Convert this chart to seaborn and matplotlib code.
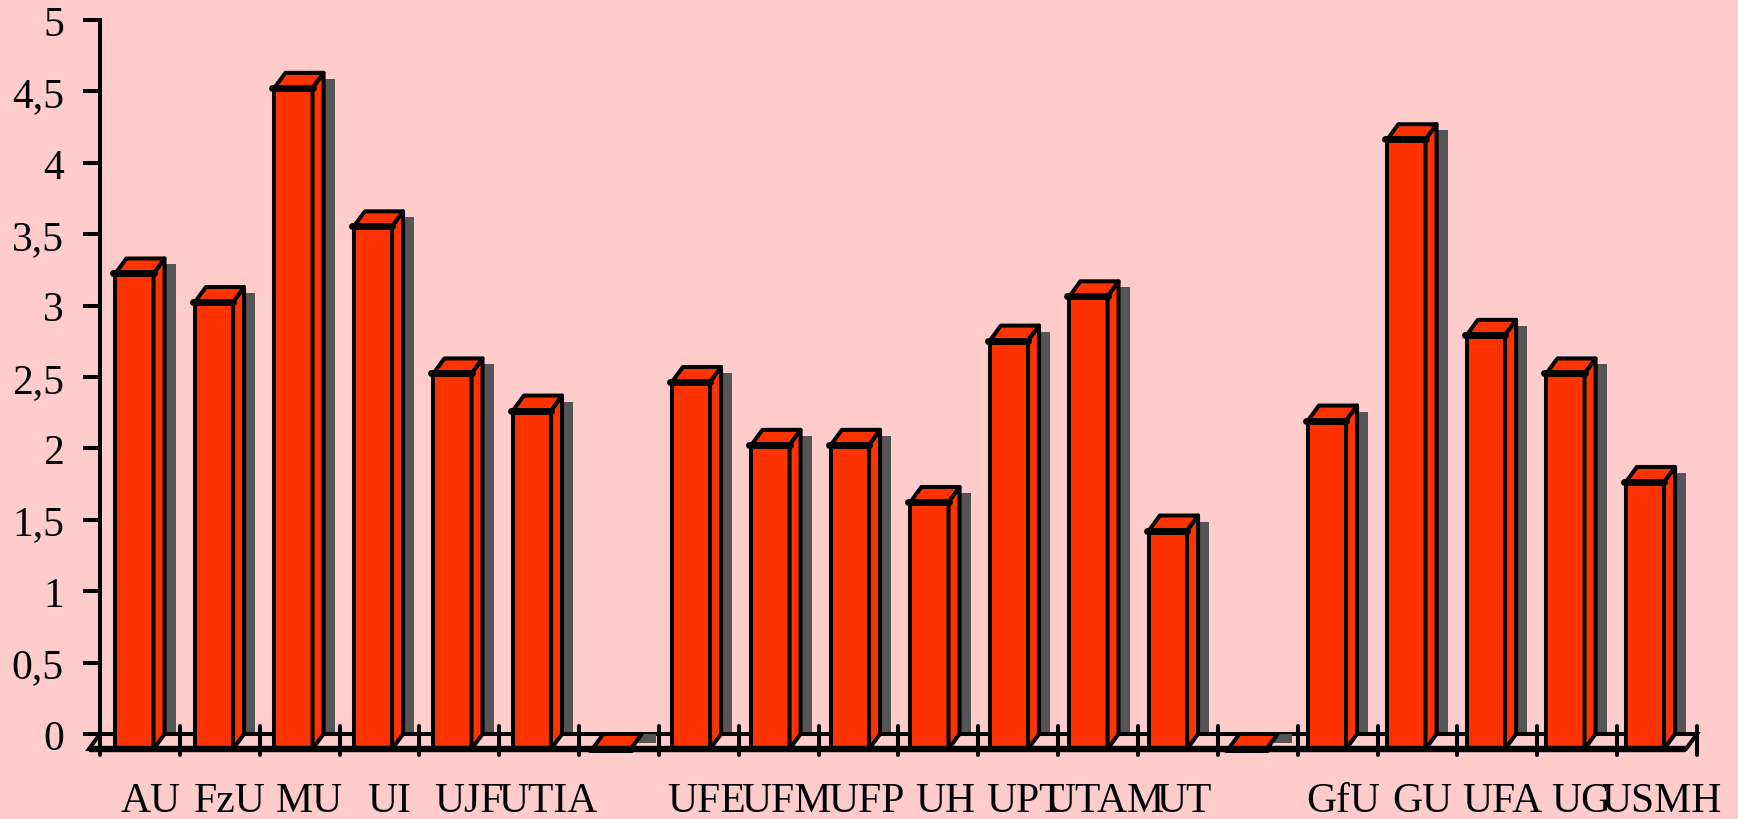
import numpy as np
import pandas as pd
import matplotlib
matplotlib.use("Agg")
import matplotlib.pyplot as plt
import seaborn as sns
from matplotlib.patches import Polygon
from matplotlib.lines import Line2D
from matplotlib.transforms import ScaledTranslation, IdentityTransform
from matplotlib.ticker import FuncFormatter

# ---------------- data ----------------
categories = ["AU", "FzU", "MU", "UI", "UJF", "UTIA", " ",
              "UFE", "UFM", "UFP", "UH", "UPT", "UTAM", "UT", "  ",
              "GfU", "GU", "UFA", "UG", "USMH"]
values = [3.33, 3.13, 4.63, 3.66, 2.63, 2.37, 0.0,
          2.57, 2.13, 2.13, 1.73, 2.86, 3.17, 1.53, 0.0,
          2.30, 4.27, 2.90, 2.63, 1.87]
y_ticks = [0, 0.5, 1, 1.5, 2, 2.5, 3, 3.5, 4, 4.5, 5]

# ---------------- style ----------------
BG = "#FFCCCC"
BAR = "#FF3300"
SHADOW = "#555555"
EDGE = "black"
LW = 2.9          # points
DPI = 100
DX, DY = 11, 15   # 3D depth offset in pixels (front = back - offset)
SX, SY = 11, 6    # shadow offset in pixels

sns.set_theme(style="white")
plt.rcParams['font.family'] = ['Liberation Serif', 'DejaVu Serif']

W, H = 1738, 820
fig = plt.figure(figsize=(W / DPI, H / DPI), dpi=DPI, facecolor=BG)
ax = fig.add_axes([100 / W, 85 / H, 1597 / W, 714 / H])
ax.set_facecolor('none')

df = pd.DataFrame({"cat": categories, "val": values})
sns.barplot(data=df, x="cat", y="val", order=categories, color=BAR,
            saturation=1, width=0.48, edgecolor=EDGE, linewidth=LW,
            errorbar=None, ax=ax, zorder=3)

ax.set_xlim(-0.572, len(categories) - 0.484)
ax.set_ylim(0, 5)
ax.set_xlabel("")
ax.set_ylabel("")

for s in ["top", "right", "bottom"]:
    ax.spines[s].set_visible(False)
ax.spines["left"].set_color(EDGE)
ax.spines["left"].set_linewidth(LW)
ax.spines["left"].set_zorder(2.5)

ax.set_yticks(y_ticks)
ax.yaxis.set_major_formatter(FuncFormatter(lambda v, p: f"{v:g}".replace(".", ",")))
ax.tick_params(axis="y", direction="out", length=12, width=LW, pad=14,
               labelsize=30, colors=EDGE, left=True)

ax.set_xticks(range(len(categories)))
ax.set_xticklabels(categories)
ax.tick_params(axis="x", length=0, pad=34, labelsize=30, colors=EDGE, bottom=False)
shift = ScaledTranslation(5 / DPI, 0, fig.dpi_scale_trans)
for lab in ax.get_xticklabels():
    lab.set_transform(lab.get_transform() + shift)

ident = IdentityTransform()
front_off = ax.transData + ScaledTranslation(-DX / DPI, -DY / DPI, fig.dpi_scale_trans)


def add(artist, clip=False):
    ax.add_artist(artist)
    artist.set_clip_on(clip)
    return artist


# ---------------- floor (spans the full axes width) ----------------
bl = ax.transAxes.transform((0, 0))
br = ax.transAxes.transform((1, 0))
add(Polygon([(bl[0], bl[1]), (br[0], br[1]), (br[0] - DX, br[1] - DY), (bl[0] - DX, bl[1] - DY)],
            closed=True, transform=ident, facecolor=BG, edgecolor=EDGE, linewidth=LW,
            joinstyle="miter", zorder=2))
add(Line2D([bl[0] - DX, br[0] - DX], [bl[1] - DY, br[1] - DY], transform=ident,
           color=EDGE, linewidth=4.6, solid_capstyle="butt", zorder=4))
# category boundary ticks crossing the floor
n = len(categories)
for k in range(n + 1):
    px = ax.transAxes.transform((k / n, 0))
    add(Line2D([px[0], px[0]], [px[1] + 8, px[1] - 21], transform=ident,
               color=EDGE, linewidth=LW, zorder=2.5))

# ---------------- 3D bars ----------------
for p in ax.patches[:n]:
    x0, w, h = p.get_x(), p.get_width(), p.get_height()
    bx0, by0 = ax.transData.transform((x0, 0))
    bx1, by1 = ax.transData.transform((x0 + w, h))
    fx0, fx1, fy0, fy1 = bx0 - DX, bx1 - DX, by0 - DY, by1 - DY

    # front face: seaborn bar moved forward
    p.set_transform(front_off)
    p.set_clip_on(False)
    p.set_joinstyle("miter")

    # shadow
    if h > 0:
        add(Polygon([(bx0 + SX, by0), (bx1 + SX, by0), (bx1 + SX, by1 - SY), (bx0 + SX, by1 - SY)],
                    closed=True, transform=ident, facecolor=SHADOW, edgecolor="none", zorder=1),
            clip=True)
    else:
        add(Polygon([(bx1, by0), (bx1 + SX + 3, by0), (bx1 + SX + 3, by0 - 9), (bx1 - 7, by0 - 9)],
                    closed=True, transform=ident, facecolor=SHADOW, edgecolor="none", zorder=2.2))

    add(Polygon([(fx1, fy1), (bx1, by1), (bx1, by0), (fx1, fy0)], closed=True, transform=ident,
                facecolor=BAR, edgecolor=EDGE, linewidth=LW, joinstyle="round", zorder=3.05))
    add(Polygon([(fx0, fy1), (fx1, fy1), (bx1, by1), (bx0, by1)], closed=True, transform=ident,
                facecolor=BAR, edgecolor=EDGE, linewidth=LW, joinstyle="round", zorder=3.1))
    add(Line2D([fx0 - 2, fx1], [fy1, fy1], transform=ident, color=EDGE,
               linewidth=5.0, solid_capstyle="round", zorder=3.2))

fig.savefig("out.png", dpi=DPI, facecolor=BG)
